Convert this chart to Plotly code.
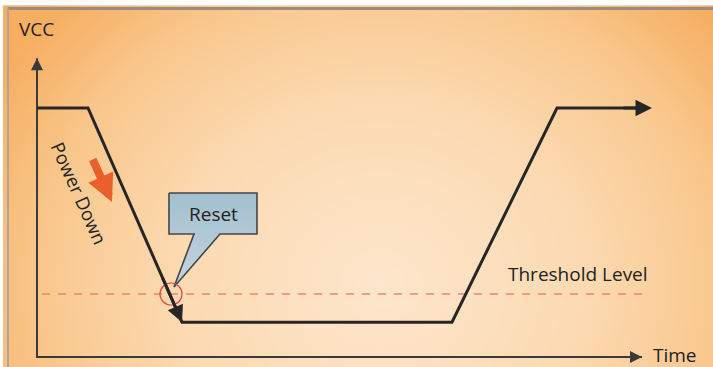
import numpy as np
import plotly.graph_objects as go

# signal: time / voltage corners
time_pts = [0.0, 1.02, 2.9, 8.3, 10.4, 12.3]
vcc_pts = [5.0, 5.0, 0.7, 0.7, 5.0, 5.0]
threshold = 1.265
t_axis_end = 12.1
v_axis_end = 6.0

# pixel <-> data helpers (only used for the layout ranges / decorations)
W, H = 713, 367
X0, Y0 = 37, 357          # origin pixel
SX, SY = 50.0, 49.8       # px per unit


def tx(px):
    return (px - X0) / SX


def vy(py):
    return (Y0 - py) / SY


fig = go.Figure()

# orange radial background
gx = np.linspace(9, W, 60)
gy = np.linspace(10, H, 40)
PX, PY = np.meshgrid(gx, gy)
d = np.sqrt(((PX - 380) / 390) ** 2 + ((PY - 285) / 350) ** 2)
fig.add_trace(go.Heatmap(
    x=[tx(v) for v in gx], y=[vy(v) for v in gy], z=np.clip(d, 0, 1.15),
    zsmooth='best', showscale=False, hoverinfo='skip',
    colorscale=[[0, '#fde6cc'], [0.45, '#fcdab2'], [0.75, '#f9c88e'], [1, '#f6ae60']],
    zmin=0, zmax=1.15,
))

ink = '#262626'

# threshold dashed line
fig.add_trace(go.Scatter(
    x=[0.1, tx(650)], y=[threshold, threshold], mode='lines',
    line=dict(color='#e8866f', width=1.6, dash='8px,8px'), hoverinfo='skip'))

# axes lines
fig.add_trace(go.Scatter(x=[0, 0, t_axis_end], y=[v_axis_end, 0, 0], mode='lines',
                         line=dict(color='#3a3a3a', width=2), hoverinfo='skip'))

# signal
fig.add_trace(go.Scatter(x=time_pts[:-1] + [time_pts[-1] - 0.2], y=vcc_pts, mode='lines',
                         line=dict(color=ink, width=3), hoverinfo='skip'))

# reset callout (box + pointer)
bx0, bx1, by0, by1 = tx(169), tx(257), vy(193), vy(234)
cx = [bx0, bx1, bx1, tx(220), tx(174), tx(194), bx0, bx0]
cy = [by0, by0, by1, by1, vy(287), by1, by1, by0]
fig.add_trace(go.Scatter(
    x=cx, y=cy, mode='lines', fill='toself',
    fillgradient=dict(type='vertical',
                      colorscale=[[0, '#c2d7e1'], [0.5, '#b2cad7'], [1, '#a3bfcd']]),
    line=dict(color='#454545', width=1.6), hoverinfo='skip'))

fig.add_shape(type='circle', x0=tx(160), x1=tx(182), y0=vy(283), y1=vy(305),
              line=dict(color='#e04a40', width=1.2))

arrows = [
    # axes arrowheads
    dict(x=0, y=v_axis_end, ax=0, ay=v_axis_end - 0.5, w=2, c='#3a3a3a', s=1.2),
    dict(x=t_axis_end, y=0, ax=t_axis_end - 0.5, ay=0, w=2, c='#3a3a3a', s=1.2),
    # signal arrowheads
    dict(x=time_pts[-1], y=vcc_pts[-1], ax=time_pts[-1] - 0.6, ay=vcc_pts[-1], w=3, c=ink, s=1.1),
    dict(x=time_pts[2], y=vcc_pts[2], ax=2.5, ay=vcc_pts[2] + (2.9 - 2.5) * 4.3 / 1.88, w=3, c=ink, s=1.1),
    # power down arrow
    dict(x=tx(112), y=vy(202), ax=tx(92), ay=vy(158), w=8, c='#e9602a', s=0.68),
]
for a in arrows:
    fig.add_annotation(x=a['x'], y=a['y'], ax=a['ax'], ay=a['ay'], xref='x', yref='y',
                       axref='x', ayref='y', showarrow=True, arrowhead=2, arrowsize=a['s'],
                       arrowwidth=a['w'], arrowcolor=a['c'], standoff=0, text='')

font = 'Open Sans, sans-serif'
txt = '#222222'
fig.add_annotation(x=tx(36), y=vy(29), text='VCC', showarrow=False,
                   font=dict(family=font, size=19, color=txt, weight=500))
fig.add_annotation(x=tx(675), y=vy(355), text='Time', showarrow=False,
                   font=dict(family=font, size=19, color=txt, weight=500))
fig.add_annotation(x=tx(578), y=vy(274), text='Threshold Level', showarrow=False,
                   font=dict(family=font, size=19, color=txt, weight=500))
fig.add_annotation(x=(bx0 + bx1) / 2, y=(by0 + by1) / 2, text='Reset', showarrow=False,
                   font=dict(family=font, size=19, color=txt, weight=500))
fig.add_annotation(x=tx(80), y=vy(193), text='Power Down', showarrow=False, textangle=66,
                   font=dict(family=font, size=18.5, color=txt, weight=500))

# frame (top and left border)
fig.add_shape(type='line', xref='paper', yref='paper', x0=0.011, x1=1, y0=1 - 8.5 / H, y1=1 - 8.5 / H,
              line=dict(color='#9c8a84', width=3))
fig.add_shape(type='line', xref='paper', yref='paper', x0=8 / W, x1=8 / W, y0=0, y1=1 - 8.5 / H,
              line=dict(color='#b0a29c', width=2))

fig.update_layout(
    width=W, height=H, margin=dict(l=0, r=0, t=0, b=0),
    paper_bgcolor='white', plot_bgcolor='white', showlegend=False,
    xaxis=dict(range=[tx(0), tx(W)], visible=False, fixedrange=True),
    yaxis=dict(range=[vy(H), vy(0)], visible=False, fixedrange=True),
)

fig.write_html("out.html", config={'displayModeBar': False},
               post_script="document.body.style.margin='0';document.body.style.overflow='hidden';")
